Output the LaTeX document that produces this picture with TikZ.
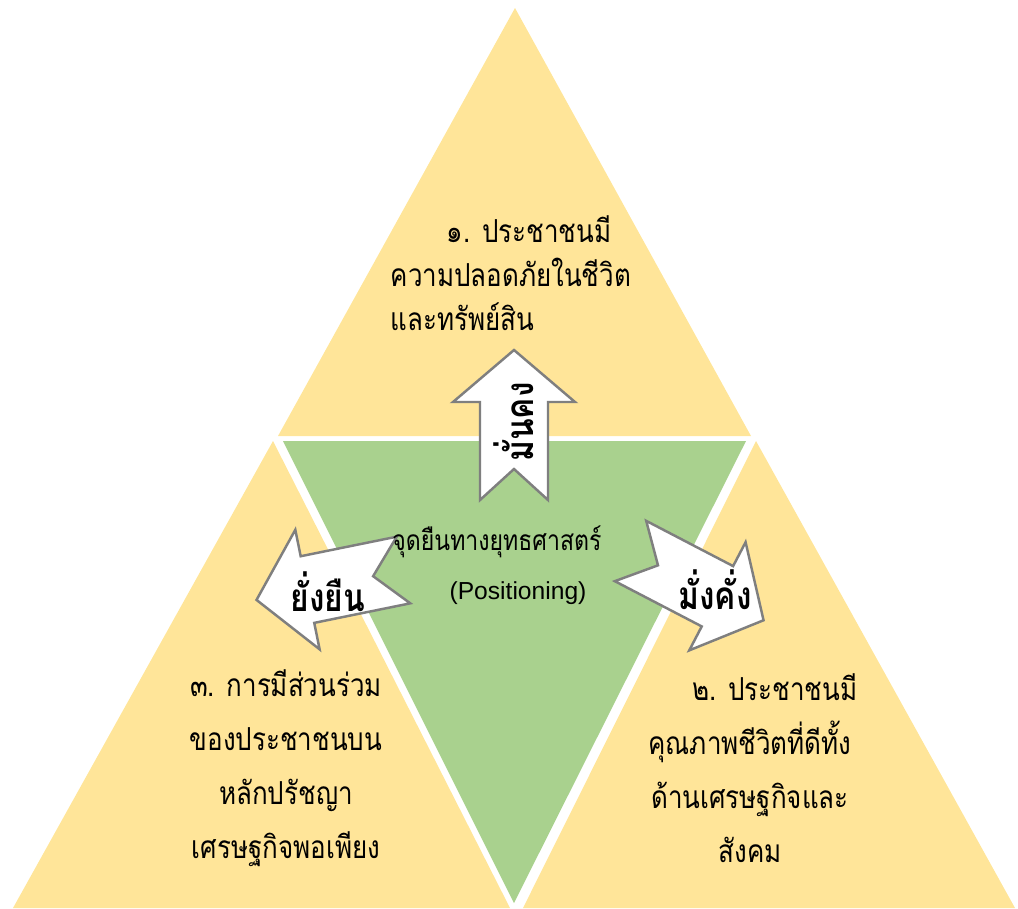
\documentclass[tikz,border=0pt]{standalone}
\usepackage{fontspec}
\setmainfont{Liberation Sans}
\newfontfamily\thaifont[Script=Thai, FakeStretch=0.82]{Loma}
\usepackage{tikz}

\definecolor{sandy}{HTML}{FFE599}
\definecolor{leafy}{HTML}{A9D18E}
\definecolor{rimgray}{HTML}{7F7F7F}

% notched block arrow, tail middle at #1, pointing at angle #2
\newcommand{\notcharrow}[2]{%
	\draw[arrowbox, shift={(#1)}, rotate=#2] (0,34) -- (98,34) -- (98,61) -- (150,0)
		-- (98,-61) -- (98,-34) -- (0,-34) -- (31,0) -- cycle;}

\begin{document}
\begin{tikzpicture}[x=0.01cm, y=-0.01cm,
	arrowbox/.style={fill=white, draw=rimgray, line width=0.7pt, line join=miter},
	bodytext/.style={inner sep=0pt, font=\thaifont\fontsize{9}{12.5}\selectfont},
	lowtext/.style={inner sep=0pt, align=center, font=\thaifont\fontsize{9}{15.4}\selectfont},
	arrowtext/.style={inner sep=0pt, font=\thaifont\bfseries\fontsize{11}{13}\selectfont}]
	\useasboundingbox (0,0) rectangle (1018,908);
	\fill[sandy] (515,8) -- (751,436) -- (278,436) -- cycle;
	\fill[sandy] (273,441) -- (510,908) -- (13,908) -- cycle;
	\fill[sandy] (756,441) -- (1015,908) -- (523,908) -- cycle;
	\fill[leafy] (283,441) -- (746,441) -- (514,903) -- cycle;
	\notcharrow{514,500}{90}
	\notcharrow{403.5,570}{191.5}
	\notcharrow{630.5,551}{-27.5}
	\node[arrowtext, rotate=90] (stable) at (514,422) {มั่นคง};
	\node[arrowtext] (sustain) at (328,592) {ยั่งยืน};
	\node[arrowtext] (wealth) at (715,590) {มั่งคั่ง};
	\node[bodytext, anchor=west, align=left] (safety) at (390,273)
		{\hspace*{16pt}๑. ประชาชนมี\\ความปลอดภัยในชีวิต\\และทรัพย์สิน};
	\node[lowtext] (share) at (286,768)
		{๓. การมีส่วนร่วม\\ของประชาชนบน\\หลักปรัชญา\\เศรษฐกิจพอเพียง};
	\node[lowtext] (life) at (750,768)
		{\hspace*{14pt}๒. ประชาชนมี\\คุณภาพชีวิตที่ดีทั้ง\\ด้านเศรษฐกิจและ\\สังคม};
	\node[inner sep=0pt, font=\thaifont\fontsize{8}{10}\selectfont] (stance) at (497,542)
		{จุดยืนทางยุทธศาสตร์};
	\node[inner sep=0pt, font=\fontsize{7}{9}\selectfont] (posit) at (518,593)
		{(Positioning)};
\end{tikzpicture}
\end{document}
